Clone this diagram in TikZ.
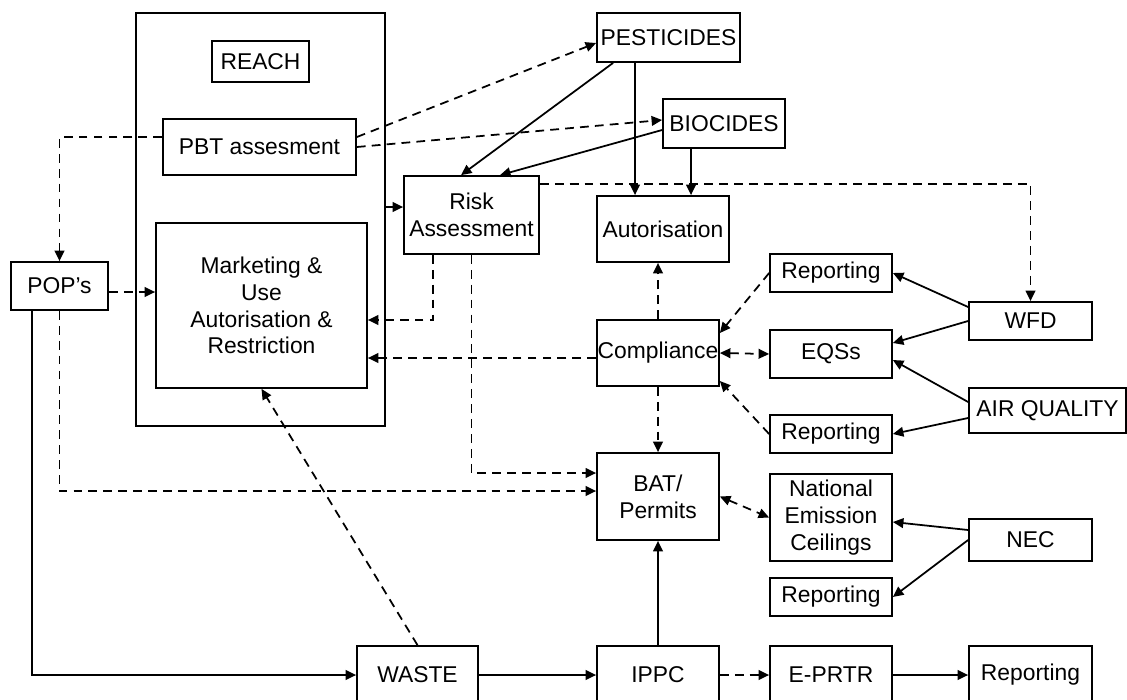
\documentclass[tikz,border=0pt]{standalone}
\usepackage{fontspec}
\setmainfont{Liberation Sans}
\usetikzlibrary{arrows.meta}

\begin{document}
\begin{tikzpicture}[x=0.02cm, y=-0.02cm, >={Triangle[length=6pt, width=5.5pt]},
  every node/.style={align=center, font=\fontsize{13}{15.3}\selectfont},
  box/.style={draw, line width=1pt, inner sep=0pt},
  conn/.style={line width=1pt, ->},
  dconn/.style={conn, dash pattern=on 5pt off 3.5pt}]
  \useasboundingbox (0,0) rectangle (1127,700);

  % REACH frame and its parts
  \node[box, minimum width=4.98cm, minimum height=8.26cm] (reach) at (260.5,219.5) {};
  \node[box, minimum width=1.94cm, minimum height=0.82cm] (reachlbl) at (260.5,61.5) {REACH};
  \node[box, minimum width=3.86cm, minimum height=1.12cm] (pbt) at (259.5,147) {PBT assesment};
  \node[box, minimum width=4.22cm, minimum height=3.3cm] (market) at (261.5,305.5) {Marketing \&\\Use\\Autorisation \&\\Restriction};
  \node[box, minimum width=1.94cm, minimum height=0.96cm] (pops) at (59.5,286) {POP's};
  \node[box, minimum width=2.7cm, minimum height=1.56cm] (risk) at (471.5,215) {Risk\\Assessment};

  % middle column
  \node[box, minimum width=2.86cm, minimum height=0.98cm] (pest) at (668.5,37.5) {PESTICIDES};
  \node[box, minimum width=2.44cm, minimum height=0.98cm] (bioc) at (724,123.5) {BIOCIDES};
  \node[box, minimum width=2.64cm, minimum height=1.32cm] (autor) at (663,229) {Autorisation};
  \node[box, minimum width=2.44cm, minimum height=1.32cm] (compl) at (658,353) {Compliance};
  \node[box, minimum width=2.44cm, minimum height=1.74cm] (bat) at (658,496.5) {BAT/\\Permits};
  \node[box, minimum width=2.44cm, minimum height=1.16cm] (ippc) at (658,675) {IPPC};
  \node[box, minimum width=2.42cm, minimum height=1.16cm] (waste) at (417.5,675) {WASTE};

  % right columns
  \node[box, minimum width=2.44cm, minimum height=0.76cm] (rep1) at (831,273) {Reporting};
  \node[box, minimum width=2.44cm, minimum height=0.96cm] (eqs) at (831,354) {EQSs};
  \node[box, minimum width=2.44cm, minimum height=0.76cm] (rep2) at (831,434) {Reporting};
  \node[box, minimum width=2.44cm, minimum height=1.74cm] (nat) at (831,517.5) {National\\Emission\\Ceilings};
  \node[box, minimum width=2.44cm, minimum height=0.76cm] (rep3) at (831,597) {Reporting};
  \node[box, minimum width=2.44cm, minimum height=1.16cm] (eprtr) at (831,675) {E-PRTR};
  \node[box, minimum width=2.46cm, minimum height=0.76cm] (wfd) at (1030.5,321) {WFD};
  \node[box, minimum width=3.14cm, minimum height=0.9cm] (airq) at (1047.5,410.5) {AIR QUALITY};
  \node[box, minimum width=2.46cm, minimum height=0.84cm] (nec) at (1030.5,540) {NEC};
  \node[box, minimum width=2.46cm, minimum height=1.16cm] (rep4) at (1030.5,675) {Reporting};

  % points where connectors leave or meet a box off centre
  \coordinate (pb1) at ([yshift=0.2cm]pbt.west);
  \coordinate (pb2) at ([yshift=0.2cm]pbt.east);
  \coordinate (pp1) at ([yshift=-0.12cm]pops.east);
  \coordinate (pp2) at ([xshift=-0.55cm]pops.south);
  \coordinate (rk1) at ([yshift=0.16cm]risk.west);
  \coordinate (rk2) at ([xshift=-0.77cm]risk.south);
  \coordinate (rk3) at ([xshift=-0.21cm]risk.north);
  \coordinate (rk4) at ([xshift=0.57cm]risk.north);
  \coordinate (rk5) at ([yshift=0.62cm]risk.east);
  \coordinate (mk1) at ([yshift=-0.29cm]market.east);
  \coordinate (cp1) at ([yshift=-0.1cm]compl.west);
  \coordinate (cp2) at ([yshift=0.4cm]compl.east);
  \coordinate (cp3) at ([yshift=-0.56cm]compl.east);
  \coordinate (bt1) at ([yshift=0.47cm]bat.west);
  \coordinate (bt2) at ([yshift=0.11cm]bat.west);
  \coordinate (ps1) at ([xshift=-0.67cm]pest.south);
  \coordinate (ps2) at ([xshift=0.34cm]pest.south west);
  \coordinate (ps3) at ([yshift=-0.11cm]pest.west);
  \coordinate (bc1) at ([xshift=-0.66cm]bioc.south);
  \coordinate (bc2) at ([yshift=-0.13cm]bioc.west);
  \coordinate (bc3) at ([yshift=0.07cm]bioc.west);

  % REACH connections
  \draw[dconn] (pb1) -| (pops.north);
  \draw[dconn] (pp1) -- (pp1 -| market.west);
  \draw[conn] (rk1 -| reach.east) -- (rk1);
  \draw[dconn] (rk2) |- (mk1);
  \draw[dconn] (cp1) -- (cp1 -| market.east);
  \draw[dconn] (pb2) -- (ps3);
  \draw[dconn] (pbt.east) -- (bc3);
  \draw[dconn] (waste.north) -- (market.south);

  % substances to assessment and autorisation
  \draw[conn] (ps2) -- (rk3);
  \draw[conn] (bc2) -- (rk4);
  \draw[conn] (ps1) -- (ps1 |- autor.north);
  \draw[conn] (bc1) -- (bc1 |- autor.north);
  \draw[dconn] (rk5) -| (wfd.north);

  % lines down to BAT and WASTE
  \draw[dconn] (risk.south) |- (bt1);
  \draw[dconn] (pops.south) |- (bt2);
  \draw[conn] (pp2) |- (waste.west);
  \draw[conn] (waste.east) -- (ippc.west);
  \draw[conn] (ippc.north) -- (bat.south);
  \draw[dconn] (ippc.east) -- (eprtr.west);
  \draw[conn] (eprtr.east) -- (rep4.west);

  % compliance links
  \draw[dconn] (compl.north) -- (compl.north |- autor.south);
  \draw[dconn] (compl.south) -- (bat.north);
  \draw[dconn] (rep1.west) -- (cp2);
  \draw[dconn] (rep2.west) -- (cp3);
  \draw[dconn, <->] (compl.east) -- (eqs.west);
  \draw[dconn, <->] (bat.east) -- (nat.west);

  % directives on the right
  \draw[conn] ([yshift=0.28cm]wfd.west) -- (rep1.east);
  \draw[conn] (wfd.west) -- ([yshift=0.22cm]eqs.east);
  \draw[conn] ([yshift=0.17cm]airq.west) -- ([yshift=-0.12cm]eqs.east);
  \draw[conn] ([yshift=-0.15cm]airq.west) -- (rep2.east);
  \draw[conn] ([yshift=0.2cm]nec.west) -- ([yshift=-0.09cm]nat.east);
  \draw[conn] (nec.west) -- (rep3.east);
\end{tikzpicture}
\end{document}
